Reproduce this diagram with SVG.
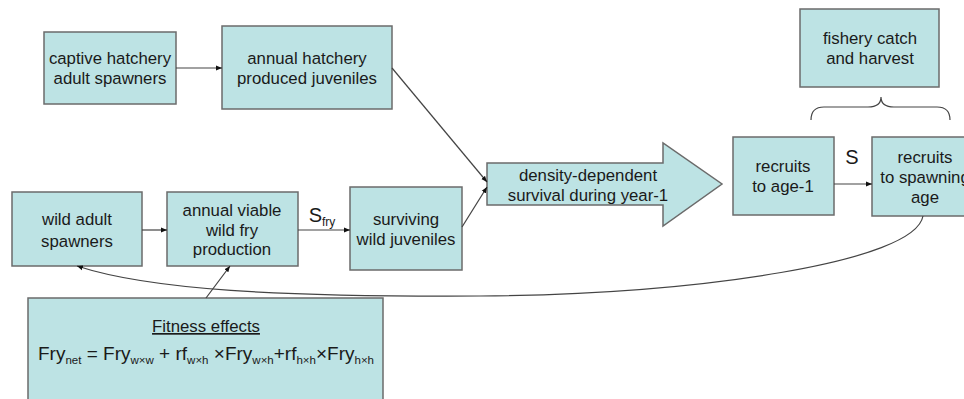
<svg xmlns="http://www.w3.org/2000/svg" width="964" height="399" viewBox="0 0 964 399">
<defs>
<style>
.box{fill:#bde3e4;stroke:#6b6b6b;stroke-width:1.5}
.t{font-family:"Liberation Sans",Arial,sans-serif;font-size:16.8px;fill:#1a1a1a;text-anchor:middle}
.c{fill:none;stroke:#444;stroke-width:1.2}
.sub{font-size:11.5px}
</style>
<marker id="ah" viewBox="0 0 10 10" refX="10" refY="5" markerWidth="6" markerHeight="6" orient="auto" markerUnits="userSpaceOnUse">
<path d="M0,1 L10,5 L0,9 z" fill="#111"/>
</marker>
</defs>
<rect width="964" height="399" fill="#fff"/>

<g id="captive">
<rect class="box" x="44" y="32" width="132" height="72"/>
<text class="t" x="110" y="64">captive hatchery</text>
<text class="t" x="110" y="84">adult spawners</text>
</g>
<g id="hatchery-juveniles">
<rect class="box" x="222" y="26" width="170" height="83"/>
<text class="t" x="307" y="64">annual hatchery</text>
<text class="t" x="307" y="84">produced juveniles</text>
</g>
<g id="fishery">
<rect class="box" x="800" y="9" width="139" height="78"/>
<text class="t" x="870" y="44">fishery catch</text>
<text class="t" x="870" y="64">and harvest</text>
</g>
<g id="density">
<path class="box" d="M487,163 L663,163 L663,143 L722,184 L663,226 L663,205 L487,205 Z"/>
<text class="t" x="588" y="181">density-dependent</text>
<text class="t" x="588" y="201">survival during year-1</text>
</g>
<g id="recruits-age1">
<rect class="box" x="733" y="137" width="101" height="78"/>
<text class="t" x="783" y="172">recruits</text>
<text class="t" x="783" y="192">to age-1</text>
</g>
<g id="recruits-spawning">
<rect class="box" x="872" y="137" width="108" height="79"/>
<text class="t" x="925" y="163">recruits</text>
<text class="t" x="925" y="183">to spawning</text>
<text class="t" x="925" y="203">age</text>
</g>
<g id="wild-adult">
<rect class="box" x="12" y="192" width="130" height="74"/>
<text class="t" x="77" y="225">wild adult</text>
<text class="t" x="77" y="247">spawners</text>
</g>
<g id="wild-fry">
<rect class="box" x="167" y="192" width="131" height="74"/>
<text class="t" x="232" y="216">annual viable</text>
<text class="t" x="232" y="236">wild fry</text>
<text class="t" x="232" y="255">production</text>
</g>
<g id="wild-juveniles">
<rect class="box" x="350" y="187" width="112" height="83"/>
<text class="t" x="406" y="225">surviving</text>
<text class="t" x="406" y="245">wild juveniles</text>
</g>
<g id="fitness">
<rect class="box" x="28" y="298" width="355" height="102"/>
<text class="t" x="206" y="332" text-decoration="underline">Fitness effects</text>
<text class="t" x="206" y="360" style="font-size:19px">Fry<tspan class="sub" dy="4">net</tspan><tspan dy="-4"> = Fry</tspan><tspan class="sub" dy="4">w×w</tspan><tspan dy="-4"> + rf</tspan><tspan class="sub" dy="4">w×h</tspan><tspan dy="-4"> ×Fry</tspan><tspan class="sub" dy="4">w×h</tspan><tspan dy="-4">+rf</tspan><tspan class="sub" dy="4">h×h</tspan><tspan dy="-4">×Fry</tspan><tspan class="sub" dy="4">h×h</tspan></text>
</g>

<g id="connectors">
<line class="c" x1="176" y1="68" x2="222" y2="68" marker-end="url(#ah)"/>
<line class="c" x1="392" y1="68" x2="487" y2="182" marker-end="url(#ah)"/>
<line class="c" x1="462" y1="227" x2="487" y2="187" marker-end="url(#ah)"/>
<line class="c" x1="142" y1="230" x2="167" y2="230" marker-end="url(#ah)"/>
<line class="c" x1="298" y1="230" x2="350" y2="230" marker-end="url(#ah)"/>
<line class="c" x1="834" y1="184" x2="872" y2="184" marker-end="url(#ah)"/>
<line class="c" x1="206" y1="298" x2="230" y2="266" marker-end="url(#ah)"/>
<path class="c" d="M923,216 C915,262 700,294 480,296 C280,297 150,290 77,266" marker-end="url(#ah)"/>
<path class="c" d="M811,120 Q811,107 824,107 L868,107 Q881,107 881,97 Q881,107 894,107 L937,107 Q950,107 950,120"/>
<text class="t" x="852" y="164" style="font-size:20px">S</text>
<text class="t" x="322" y="222" style="font-size:20px">S<tspan dy="4" style="font-size:12px">fry</tspan></text>
</g>
</svg>
